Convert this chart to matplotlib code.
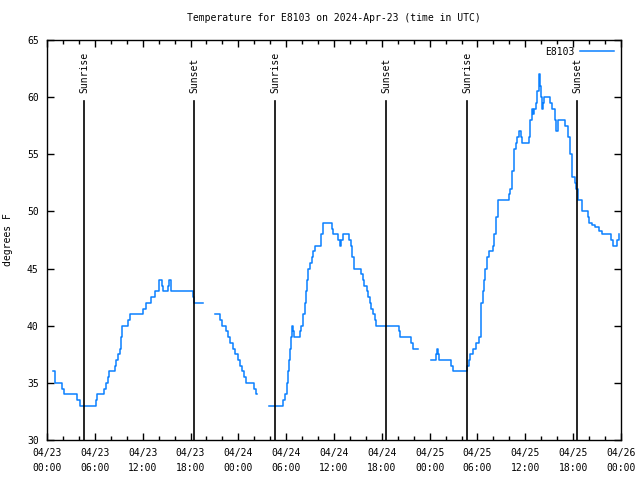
import numpy as np
import matplotlib.pyplot as plt
from matplotlib.ticker import MultipleLocator

plt.rcParams.update({"font.family": "DejaVu Sans Mono", "font.size": 7})

# hours since 2024-04-23 00:00 UTC, temperature (F); NaN marks a gap in the record
hours = [
    0.8, 0.95, 1.05, 1.9, 2.1, 3.8, 4.1, 6.1, 6.3, 7.1, 7.4, 7.6, 7.8, 8.5, 8.7, 8.9, 9.15, 9.3,
    9.45, 10.1, 10.4, 12.1, 12.4, 13.1, 13.5, 14.0, 14.1, 14.45, 14.6, 15.2, 15.35, 15.5, 18.35,
    18.5, 19.5, 19.6,
    21.1, 21.75, 21.9, 22.45, 22.7, 23.0, 23.3, 23.6, 23.9, 24.2, 24.5, 24.75, 24.95, 26.0, 26.2,
    26.25, 26.3,
    27.9, 29.6, 29.9, 30.1, 30.25, 30.35, 30.45, 30.6, 30.7, 30.85, 31.0, 31.7, 31.9, 32.1, 32.35,
    32.5, 32.65, 32.8, 33.0, 33.2, 33.4, 33.6, 34.4, 34.6, 35.7, 35.85, 36.5, 36.7, 36.9, 37.1,
    37.9, 38.1, 38.3, 38.5, 39.4, 39.6, 39.8, 40.1, 40.3, 40.5, 40.7, 40.85, 41.1, 41.3, 44.1,
    44.3, 45.7, 45.9, 46.45, 46.5,
    48.2, 48.85, 48.95, 49.1, 49.2, 50.7, 50.9, 52.7, 52.9, 53.1, 53.4, 53.8, 54.2, 54.4, 54.5,
    54.7, 54.8, 55.0, 55.2, 55.5, 55.9, 56.1, 56.3, 56.6, 58.0, 58.1, 58.3, 58.6, 58.8, 59.0,
    59.2, 59.4, 59.6, 60.4, 60.6, 60.8, 60.9, 61.1, 61.3, 61.5, 61.7, 61.8, 61.95, 62.1, 62.2,
    62.4, 62.9, 63.1, 63.4, 63.7, 63.9, 64.1, 65.0, 65.3, 65.6, 65.9, 66.2, 66.4, 66.6, 67.1,
    67.9, 68.0, 68.4, 68.8, 69.2, 69.6, 70.7, 71.0, 71.5, 71.7, 71.8,
]
temps = [
    36, 35.5, 35, 34.5, 34, 33.5, 33, 33.5, 34, 34.5, 35, 35.5, 36, 36.5, 37, 37.5, 38, 39,
    40, 40.5, 41, 41.5, 42, 42.5, 43, 43.5, 44, 43.5, 43, 43.5, 44, 43, 42.5,
    42, 42, np.nan,
    41, 40.5, 40, 39.5, 39, 38.5, 38, 37.5, 37, 36.5, 36, 35.5, 35, 34.5, 34,
    34, np.nan,
    33, 33.5, 34, 35, 36, 37, 38, 39, 40, 39.5, 39, 39.5, 40, 41, 42,
    43, 44, 45, 45.5, 46, 46.5, 47, 48, 49, 48.5, 48, 47.5, 47, 47.5, 48,
    47.5, 47, 46, 45, 44.5, 44, 43.5, 43, 42.5, 42, 41.5, 41, 40.5, 40, 39.5,
    39, 38.5, 38, 38, np.nan,
    37, 37.5, 38, 37.5, 37, 36.5, 36, 36.5, 37, 37.5, 38, 38.5, 39, 40, 42,
    43, 44, 45, 46, 46.5, 47, 48, 49.5, 51, 51.5, 52, 53.5, 55.5, 56, 56.5,
    57, 56.5, 56, 56.5, 58, 59, 58.5, 59, 59.5, 60.5, 62, 61, 60, 59, 59.5,
    60, 60, 59.5, 59, 58, 57, 58, 57.5, 56.5, 55, 53, 52.5, 52, 51, 50,
    49.5, 49, 48.8, 48.6, 48.3, 48, 47.5, 47, 47.5, 48, 48,
]

sun_hours = [4.64, 18.44, 28.6, 42.52, 52.68, 66.48]
sun_labels = ["Sunrise", "Sunset", "Sunrise", "Sunset", "Sunrise", "Sunset"]

tick_hours = list(range(0, 73, 6))
tick_labels = ["04/%d\n%02d:00" % (23 + h // 24, h % 24) for h in tick_hours]

fig = plt.figure(figsize=(6.4, 4.8), dpi=100)
ax = fig.add_axes([47 / 640, 40 / 480, 574 / 640, 400 / 480])

ax.plot(hours, temps, color="#0a80ff", lw=1.1, drawstyle="steps-post", label="E8103")

for h, lab in zip(sun_hours, sun_labels):
    ax.plot([h, h], [30, 59.7], color="black", lw=1.2)
    ax.text(h, 60.4, lab, rotation=90, ha="center", va="bottom", fontsize=7)

ax.set_xlim(0, 72)
ax.set_ylim(30, 65)
ax.set_xticks(tick_hours)
ax.set_xticklabels(tick_labels, linespacing=1.6)
ax.xaxis.set_minor_locator(MultipleLocator(2))
ax.set_yticks(range(30, 66, 5))
ax.tick_params(which="both", direction="in", top=True, right=True, width=1)
ax.tick_params(which="major", length=5, pad=6)
ax.tick_params(which="minor", length=3)
for s in ax.spines.values():
    s.set_linewidth(1)

ax.set_ylabel("degrees F", labelpad=10)
ax.set_title("Temperature for E8103 on 2024-Apr-23 (time in UTC)", fontsize=7, pad=14)
ax.legend(loc="upper right", frameon=False, handlelength=3.5, markerfirst=False,
          borderaxespad=0.3, handletextpad=0.6)

fig.savefig("out.png", dpi=100)
